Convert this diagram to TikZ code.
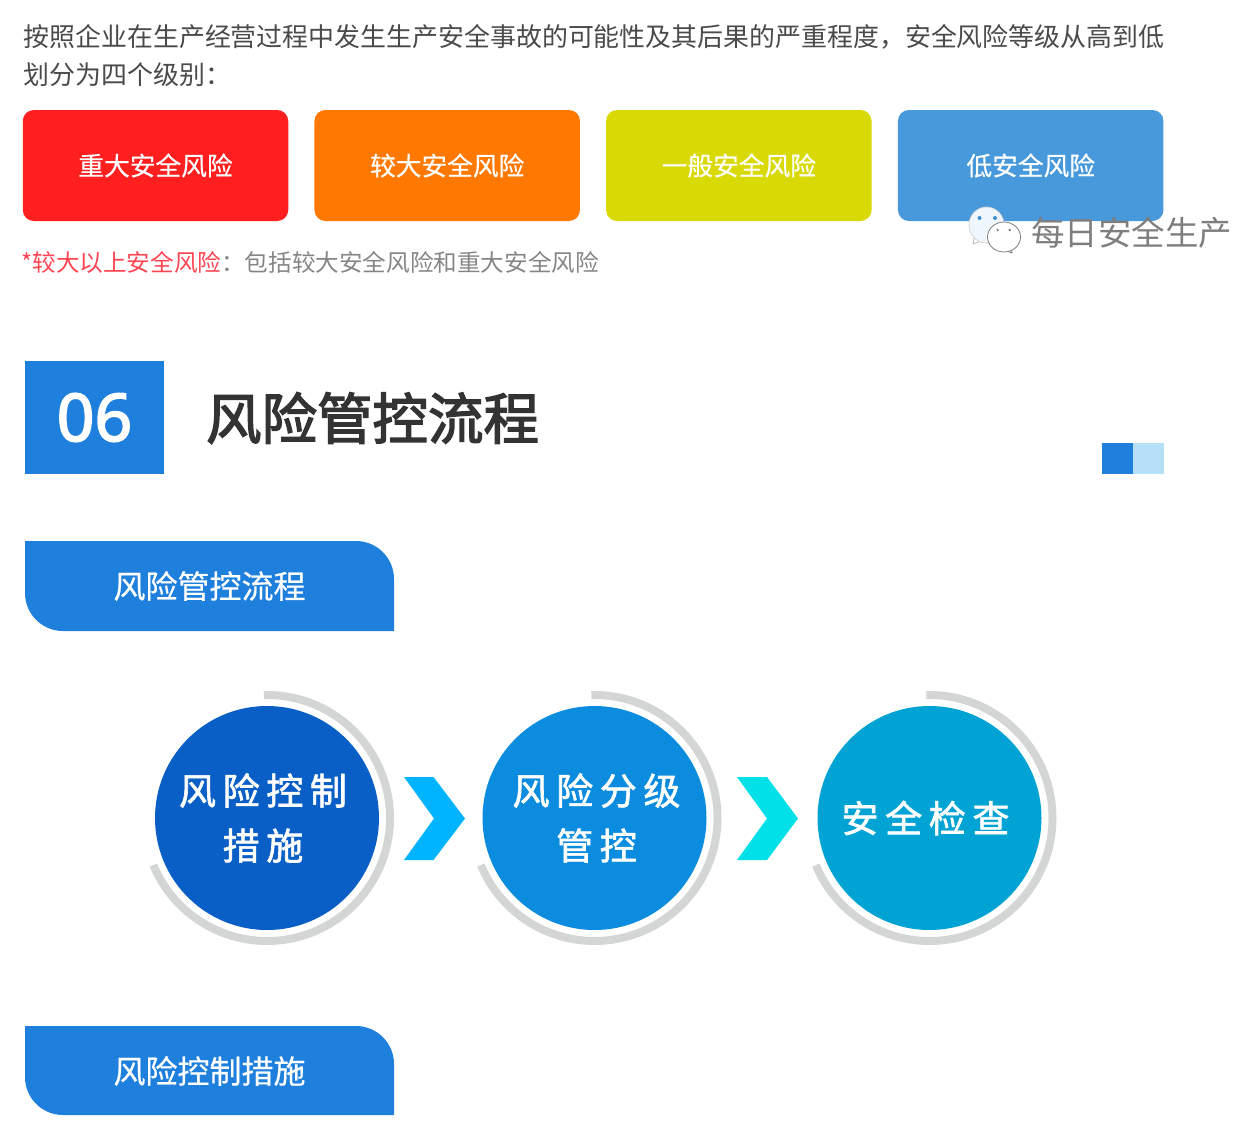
\documentclass[tikz,border=0pt]{standalone}
\usepackage{fontspec}
\setmainfont{Noto Sans CJK SC}
\newfontfamily\latinf[FakeBold=2.5]{Noto Sans}
\newfontfamily\cjktitle[FakeBold=2.6]{Noto Sans CJK SC}
\newfontfamily\cjkspaced[FakeBold=1.7,LetterSpace=18]{Noto Sans CJK SC}
\newfontfamily\cjksoft[FakeBold=0.5]{Noto Sans CJK SC}
\definecolor{bodytext}{HTML}{4A4A4A}
\definecolor{notegray}{HTML}{858585}
\definecolor{notered}{HTML}{FF4452}
\definecolor{headblue}{HTML}{1E7FDD}
\definecolor{lightblue}{HTML}{B5E0F7}
\definecolor{ringgray}{HTML}{D4D6D6}
\definecolor{riskred}{HTML}{FF1F1F}
\definecolor{riskorange}{HTML}{FF7800}
\definecolor{riskyellow}{HTML}{D9D906}
\definecolor{riskblue}{HTML}{4799DB}
\definecolor{stepone}{HTML}{0A5FC6}
\definecolor{steptwo}{HTML}{0B8CDE}
\definecolor{stepthree}{HTML}{00A3D3}
\definecolor{chevone}{HTML}{00B4FF}
\definecolor{chevtwo}{HTML}{00E0E8}
\definecolor{titledark}{HTML}{333333}
\definecolor{markgray}{HTML}{7E7E7E}
\definecolor{eyeblue}{HTML}{3E8FCF}
\tikzset{
  x=1pt,y=-1pt,
  plain/.style={inner sep=0pt,outer sep=0pt},
  bodyline/.style={plain,anchor=west,text=bodytext,font=\fontsize{25.93}{30}\selectfont},
  riskbox/.style={plain,rounded corners=11pt,minimum width=265.5pt,minimum height=111pt,text=white,font=\cjksoft\fontsize{25.7}{30}\selectfont},
  stepcircle/.style={plain,circle,minimum size=224pt,text=white,align=center,font=\cjkspaced\fontsize{37}{55}\selectfont},
  stepring/.style={draw=ringgray,line width=8pt},
  pill/.style={fill=headblue},
  pilltext/.style={plain,text=white,font=\cjksoft\fontsize{32}{36}\selectfont},
}
\begin{document}
\begin{tikzpicture}
\useasboundingbox (0,0) rectangle (1260,1132);
\node[bodyline] (introa) at (23.5,36.5) {按照企业在生产经营过程中发生生产安全事故的可能性及其后果的严重程度，安全风险等级从高到低};
\node[bodyline] (introb) at (23.5,74.5) {划分为四个级别：};

\node[riskbox,fill=riskred] (r1) at (155.5,165.5) {重大安全风险};
\node[riskbox,fill=riskorange] (r2) at (447.2,165.5) {较大安全风险};
\node[riskbox,fill=riskyellow] (r3) at (738.8,165.5) {一般安全风险};
\node[riskbox,fill=riskblue] (r4) at (1030.7,165.5) {低安全风险};

\node[plain,anchor=west,font=\fontsize{23.6}{28}\selectfont] (note) at (21.5,262.5) {\textcolor{notered}{*较大以上安全风险}\textcolor{notegray}{：包括较大安全风险和重大安全风险}};

% watermark
\fill[white,draw=markgray!60,line width=0.7pt] (974,238) -- (973,244) -- (981,241) -- cycle;
\filldraw[fill=white!92!riskblue,draw=markgray!35,line width=0.7pt] (986.5,225) ellipse [x radius=17.5,y radius=18];
\fill[eyeblue] (979.5,218) circle [radius=2];
\fill[eyeblue] (995,218) circle [radius=2];
\fill[white,draw=markgray,line width=0.8pt] (1004,250) -- (1012,253) -- (1011,245) -- cycle;
\filldraw[fill=white,draw=markgray,line width=0.8pt] (1004,237) ellipse [x radius=16.5,y radius=15];
\fill[markgray] (997.6,230) circle [radius=1.3];
\fill[markgray] (1009.7,230) circle [radius=1.3];
\node[plain,anchor=west,text=markgray,font=\fontsize{33.5}{38}\selectfont] (mark) at (1031,233) {每日安全生产};

% section heading
\node[plain,fill=headblue,minimum width=139pt,minimum height=113pt,text=white,font=\latinf\fontsize{66}{70}\selectfont] (num) at (94.5,417.5) {06};
\node[plain,anchor=west,text=titledark,font=\cjktitle\fontsize{55.5}{60}\selectfont] (title) at (206,418) {风险管控流程};
\node[plain,fill=headblue,minimum width=31pt,minimum height=31pt] (sqa) at (1117.5,458.5) {};
\node[plain,fill=lightblue,minimum width=31pt,minimum height=31pt] (sqb) at (1148.5,458.5) {};

% first tab
\fill[pill] (25,541) -- (356,541) arc [start angle=-90,end angle=0,radius=38] -- (394,631) -- (63,631) arc [start angle=90,end angle=180,radius=38] -- cycle;
\node[pilltext] (taba) at (209.5,586) {风险管控流程};

% steps
\draw[stepring] (267,818) ++(-91.5:123) arc [start angle=-91.5,end angle=157.5,radius=123];
\draw[stepring] (594.5,818) ++(-91.5:123) arc [start angle=-91.5,end angle=157.5,radius=123];
\draw[stepring] (929.5,818) ++(-91.5:123) arc [start angle=-91.5,end angle=157.5,radius=123];
\node[stepcircle,fill=stepone] (s1) at (267,818) {风险控制\kern8pt\\措施\kern8pt};
\node[stepcircle,fill=steptwo] (s2) at (594.5,818) {风险分级\kern-4pt\\管控\kern-4pt};
\node[stepcircle,fill=stepthree] (s3) at (929.5,818) {安全检查\kern8pt};

\fill[chevone] (404,777) -- (433.5,777) -- (465,818.5) -- (433.5,860) -- (404,860) -- (434,818.5) -- cycle;
\fill[chevtwo] (737,777) -- (767,777) -- (798,818.5) -- (767,860) -- (737,860) -- (767,818.5) -- cycle;

% second tab
\fill[pill] (25,1026) -- (356,1026) arc [start angle=-90,end angle=0,radius=38] -- (394,1115) -- (63,1115) arc [start angle=90,end angle=180,radius=38] -- cycle;
\node[pilltext] (tabb) at (209.5,1071) {风险控制措施};
\end{tikzpicture}
\end{document}
